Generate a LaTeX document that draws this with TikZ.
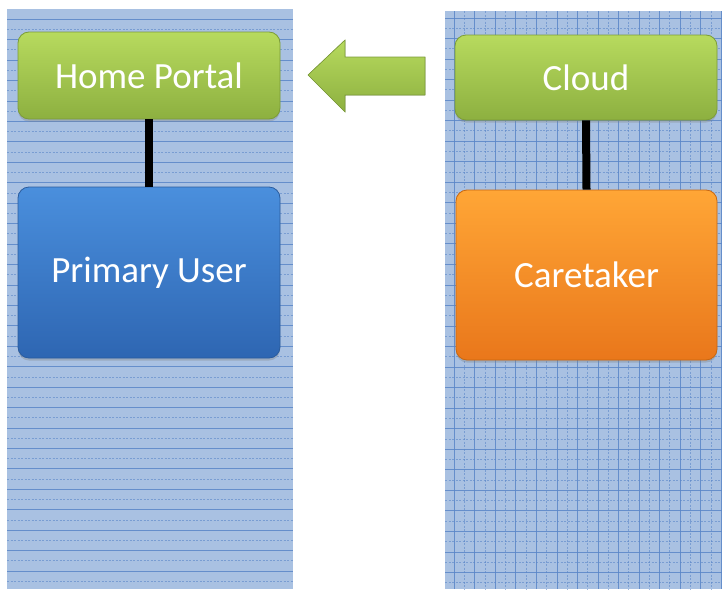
\documentclass[tikz,border=0pt]{standalone}
\usepackage{fontspec}
\setmainfont{Carlito}
\usetikzlibrary{shadows}
\definecolor{panelbg}{HTML}{A9C1E2}
\definecolor{panelline}{HTML}{5A86C8}
\definecolor{gtop}{HTML}{B7DA5E}
\definecolor{gbot}{HTML}{8DB040}
\definecolor{gborder}{HTML}{7C9C38}
\definecolor{btop}{HTML}{4A8FDD}
\definecolor{bbot}{HTML}{2E66B2}
\definecolor{bborder}{HTML}{2A5C9E}
\definecolor{otop}{HTML}{FFA636}
\definecolor{obot}{HTML}{E9771B}
\definecolor{oborder}{HTML}{C9670F}
\tikzset{
  box/.style={rectangle, rounded corners=11pt, draw, line width=0.8pt, text=white,
    font=\fontsize{37}{42}\selectfont, inner sep=0pt,
    drop shadow={shadow xshift=0pt, shadow yshift=-2.5pt, opacity=0.35}},
  greenbox/.style={box, top color=gtop, bottom color=gbot, draw=gborder},
  bluebox/.style={box, top color=btop, bottom color=bbot, draw=bborder},
  orangebox/.style={box, top color=otop, bottom color=obot, draw=oborder},
  link/.style={line width=8pt, black},
  gridsolid/.style={panelline, line width=1pt, opacity=0.85},
  griddash/.style={panelline, line width=1pt, opacity=0.6, dash pattern=on 2pt off 1.5pt}
}
\begin{document}
\begin{tikzpicture}[x=1pt,y=-1pt]
\useasboundingbox (0,0) rectangle (722,589);
% left panel
\fill[panelbg] (7,9) rectangle (293,589);
\begin{scope}
\clip (7,9) rectangle (293,589);
\foreach \i in {0,...,28} {
  \pgfmathsetmacro{\yy}{19.3+20.44*\i}
  \pgfmathsetmacro{\yz}{\yy+10.22}
  \draw[gridsolid] (7,\yy) -- (293,\yy);
  \draw[griddash] (7,\yz) -- (293,\yz);
}
\end{scope}
% right panel
\fill[panelbg] (445,11) rectangle (722,589);
\begin{scope}
\clip (445,11) rectangle (722,589);
\foreach \i in {0,...,28} {
  \pgfmathsetmacro{\yy}{18+20.54*\i}
  \pgfmathsetmacro{\yz}{\yy+10.27}
  \draw[gridsolid] (445,\yy) -- (722,\yy);
  \draw[griddash] (445,\yz) -- (722,\yz);
}
\foreach \i in {0,...,14} {
  \pgfmathsetmacro{\xx}{454.3+20.54*\i}
  \pgfmathsetmacro{\xz}{\xx+10.27}
  \draw[gridsolid] (\xx,11) -- (\xx,589);
  \draw[griddash] (\xz,11) -- (\xz,589);
}
\end{scope}
% boxes
\node[greenbox, minimum width=262pt, minimum height=87pt] (hp) at (149,75.5) {Home Portal};
\node[bluebox, minimum width=262pt, minimum height=171pt] (pu) at (149,272.5) {Primary User};
\node[greenbox, minimum width=262pt, minimum height=85pt] (cl) at (586,77.5) {Cloud};
\node[orangebox, minimum width=261pt, minimum height=170pt] (ct) at (586.5,275) {Caretaker};
% connectors
\draw[link] (hp.south) -- (pu.north);
\draw[link] (cl.south) -- (ct.north);
% big arrow
\fill[top color=gtop, bottom color=gbot, draw=gborder, line width=0.6pt]
  (308,75) -- (345,40) -- (345,57) -- (425,57) -- (425,95) -- (345,95) -- (345,112) -- cycle;
\end{tikzpicture}
\end{document}
